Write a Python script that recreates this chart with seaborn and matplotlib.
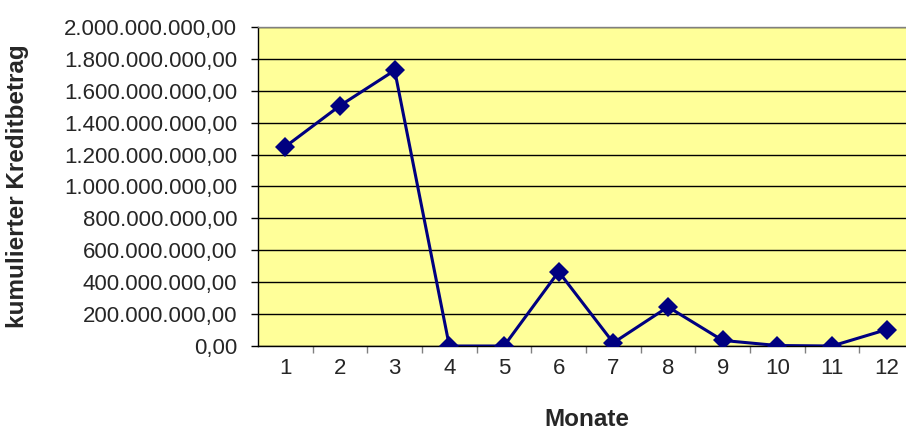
import matplotlib
matplotlib.use("Agg")
import matplotlib.pyplot as plt
import matplotlib.ticker as mticker
import numpy as np
import pandas as pd
import seaborn as sns

# Monthly cumulative credit amounts
monate = [1, 2, 3, 4, 5, 6, 7, 8, 9, 10, 11, 12]
kreditbetrag = [1_250_000_000, 1_507_000_000, 1_728_000_000, 0, 0, 466_000_000,
                20_000_000, 245_000_000, 35_000_000, 3_000_000, 0, 103_000_000]
y_ticks = [0, 200_000_000, 400_000_000, 600_000_000, 800_000_000, 1_000_000_000,
           1_200_000_000, 1_400_000_000, 1_600_000_000, 1_800_000_000, 2_000_000_000]

df = pd.DataFrame({"Monat": monate, "Betrag": kreditbetrag})

sns.set_theme(style="white")
plt.rcParams["font.family"] = ["Liberation Sans", "DejaVu Sans"]

fig = plt.figure(figsize=(9.06, 4.33), dpi=100)
ax = fig.add_axes([258 / 906, 87 / 433, 656 / 906, 319 / 433])
ax.set_facecolor("#FFFF99")

sns.lineplot(data=df, x="Monat", y="Betrag", ax=ax, color="#000080",
             linewidth=2.2, marker="D", markersize=10, markeredgewidth=0,
             zorder=3)

ax.set_xlim(0.5, 12.5)
ax.set_ylim(0, 2_000_000_000)
ax.set_yticks(y_ticks)


def de_format(v, pos=None):
    s = f"{v:,.2f}"
    return s.replace(",", "X").replace(".", ",").replace("X", ".")


ax.yaxis.set_major_formatter(mticker.FuncFormatter(de_format))
ax.set_xticks(monate)
ax.set_xticklabels([str(m) for m in monate])
ax.set_xticks(np.arange(1.5, 12.5, 1), minor=True)

ax.grid(axis="y", color="black", linewidth=1, zorder=1)
ax.set_axisbelow(True)
ax.tick_params(axis="y", which="major", length=5, width=1, color="black",
               direction="out", left=True, labelsize=16, pad=10)
ax.tick_params(axis="x", which="major", length=0, labelsize=16, pad=9)
ax.tick_params(axis="x", which="minor", length=5, width=1, color="#808080",
               direction="out", bottom=True)

for side in ["left", "bottom"]:
    ax.spines[side].set_color("black")
    ax.spines[side].set_linewidth(1)
ax.spines["top"].set_color("#808080")
ax.spines["top"].set_linewidth(1)
ax.spines["right"].set_visible(False)

ax.set_xlabel("Monate", fontsize=17.5, fontweight="bold", va="center")
ax.set_ylabel("kumulierter Kreditbetrag", fontsize=17.5, fontweight="bold",
              va="center")
ax.xaxis.set_label_coords((587 - 258) / 656, (346 - 419) / 319)
ax.yaxis.set_label_coords((18 - 258) / 656, (346 - 186) / 319)

fig.savefig("out.png", dpi=100)
